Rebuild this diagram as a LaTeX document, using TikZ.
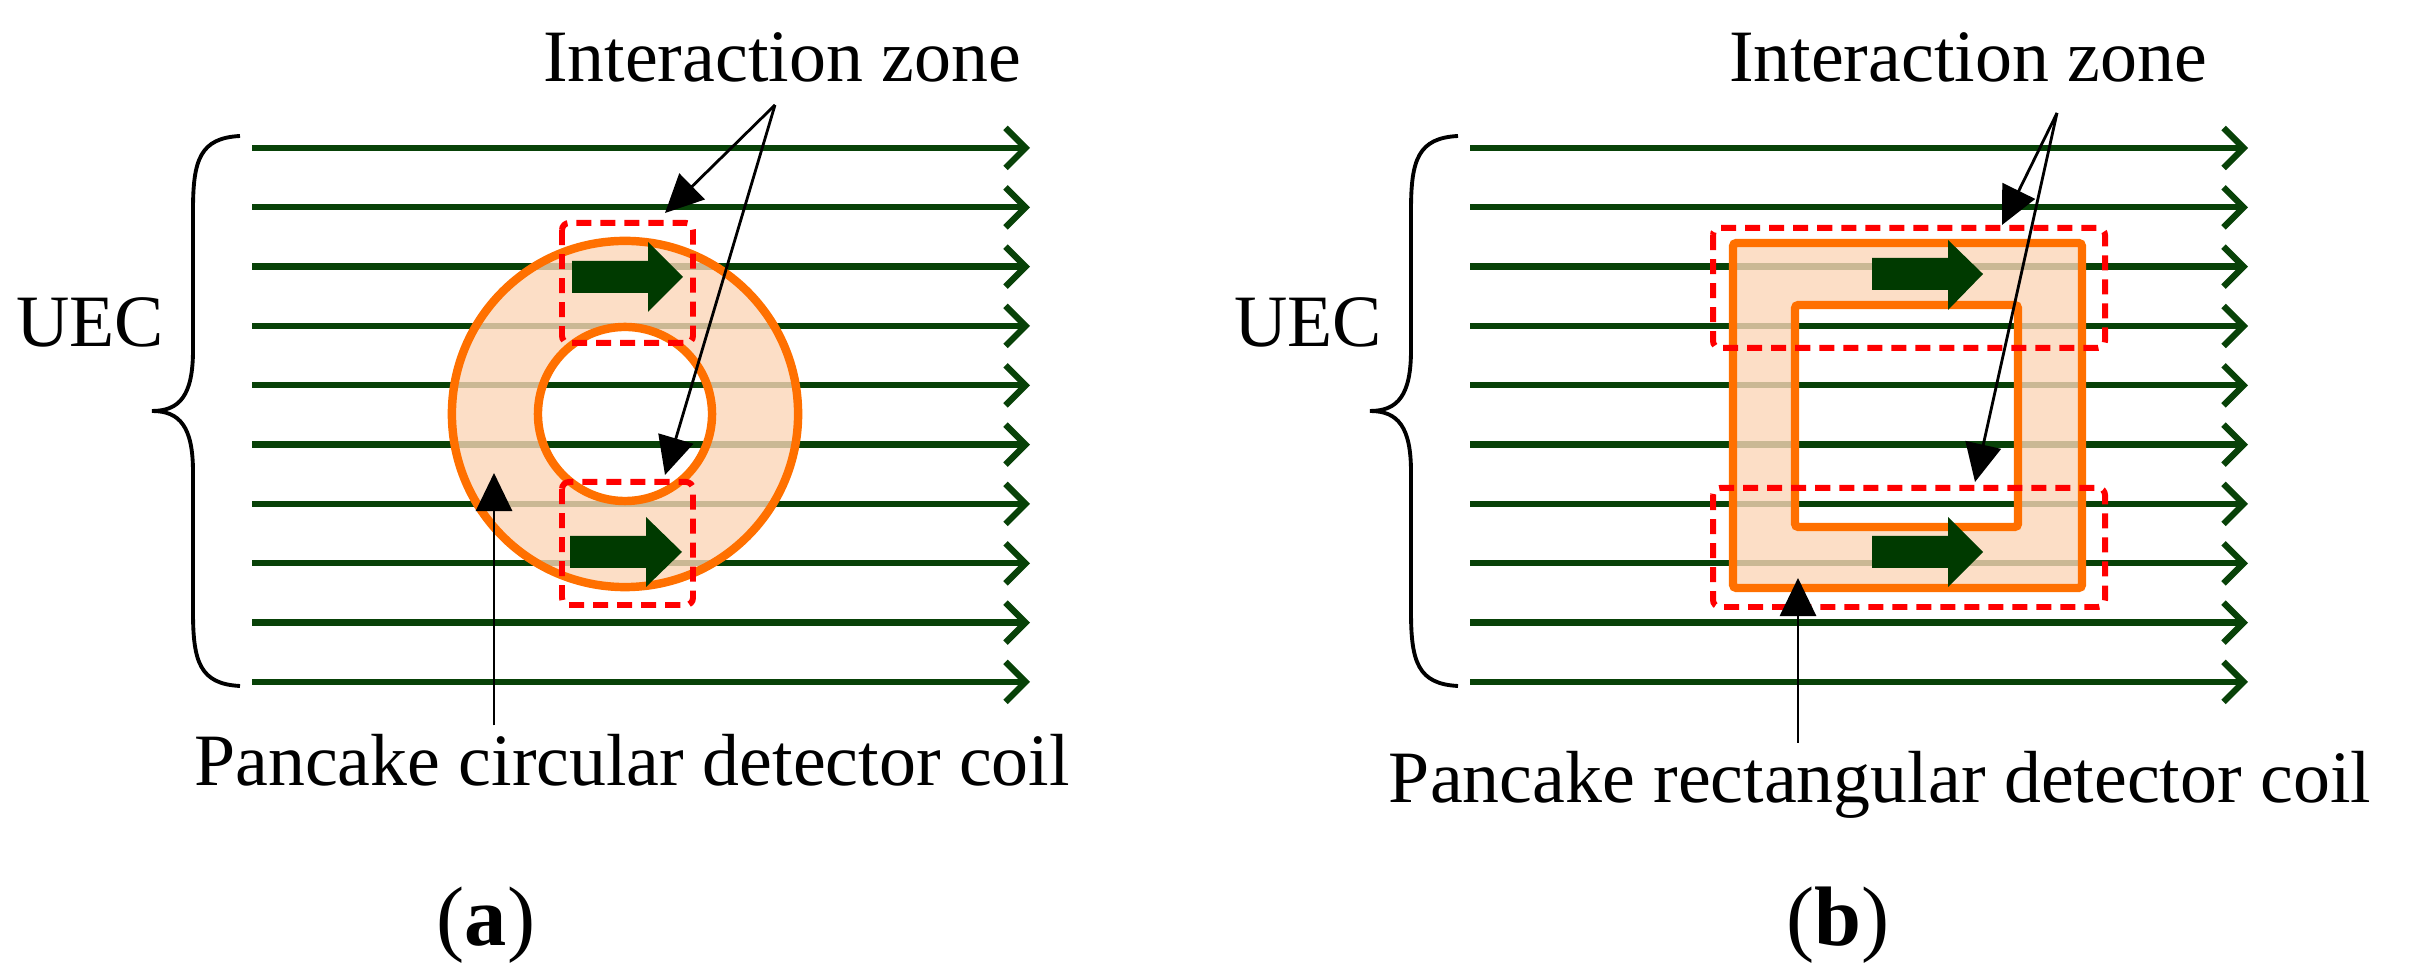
\documentclass[tikz,border=0pt]{standalone}
\usepackage{fontspec}
\setmainfont{Liberation Serif}
\usetikzlibrary{arrows.meta}
\definecolor{fgreen}{RGB}{8,66,8}
\definecolor{bgreen}{RGB}{0,58,0}
\definecolor{coil}{RGB}{255,112,0}
\definecolor{peach}{RGB}{251,214,184}
\definecolor{zred}{RGB}{255,0,0}
\tikzset{
  fl/.style={fgreen,line width=1.8pt,-{Straight Barb[length=0.2cm,width=0.4cm,line width=1.8pt]}},
  coilline/.style={coil,line width=2.4pt,rounded corners=1pt},
  zone/.style={zred,line width=1.7pt,dash pattern=on 0.15cm off 0.09cm,rounded corners=2pt},
  ptr/.style={black,line width=0.8pt,-{Triangle[length=0.38cm,width=0.36cm]}},
  lab/.style={font=\fontsize{21}{24}\selectfont,inner sep=0pt},
  sub/.style={font=\fontsize{24}{28}\selectfont,inner sep=0pt},
  brc/.style={black,line width=1.1pt},
  blk/.style={bgreen}
}
\begin{document}
\begin{tikzpicture}[x=0.01cm,y=-0.01cm]
\useasboundingbox (0,0) rectangle (2436,977);
% ---------------- panel (a)
\foreach \i in {0,...,9}{
  \coordinate (la\i) at (252,{148+59.33*\i});
  \coordinate (ra\i) at (1030,{148+59.33*\i});
  \draw[fl] (la\i) -- (ra\i);
}
\coordinate (cc) at (625,414);
\fill[peach,opacity=0.8,even odd rule] (cc) circle[radius=1.73cm] (cc) circle[radius=0.87cm];
\draw[coilline] (cc) circle[radius=1.73cm];
\draw[coilline] (cc) circle[radius=0.87cm];
\fill[blk] (572,261)--(648,261)--(648,242)--(683,277)--(648,312)--(648,293)--(572,293)--cycle;
\fill[blk] (570,536)--(646,536)--(646,517)--(682,552)--(646,587)--(646,568)--(570,568)--cycle;
\draw[zone] (562,223) rectangle (693,343);
\draw[zone] (562,482) rectangle (693,605);
\draw[brc] (240,136) .. controls (200,138) and (193,160) .. (193,210) -- (193,350) .. controls (193,395) and (180,411) .. (152,411) .. controls (180,411) and (193,427) .. (193,472) -- (193,612) .. controls (193,662) and (200,684) .. (240,686);
\node[lab] (uecA) at (90,322) {UEC};
\node[lab] (izA) at (782,57) {Interaction zone};
\coordinate (apA) at (775,105);
\coordinate (t1A) at (665,213);
\coordinate (t2A) at (665,475);
\draw[ptr] (apA) -- (t1A);
\draw[ptr] (apA) -- (t2A);
\node[lab] (pcA) at (632,760) {Pancake circular detector coil};
\coordinate (tpA) at (494,473);
\draw[ptr] (pcA.north -| tpA) ++(0,-8) coordinate (spA) -- (tpA);
\node[sub] (capA) at (486,925) {(\textbf{a})};
% ---------------- panel (b)
\foreach \i in {0,...,9}{
  \coordinate (lb\i) at (1470,{148+59.33*\i});
  \coordinate (rb\i) at (2248,{148+59.33*\i});
  \draw[fl] (lb\i) -- (rb\i);
}
\fill[peach,opacity=0.8,even odd rule] (1733,243) rectangle (2082,588) (1795,305) rectangle (2018,527);
\draw[coilline] (1733,243) rectangle (2082,588);
\draw[coilline] (1795,305) rectangle (2018,527);
\fill[blk] (1872,258)--(1948,258)--(1948,240)--(1983,274)--(1948,310)--(1948,290)--(1872,290)--cycle;
\fill[blk] (1872,536)--(1948,536)--(1948,517)--(1983,552)--(1948,587)--(1948,568)--(1872,568)--cycle;
\draw[zone] (1713,228) rectangle (2105,348);
\draw[zone] (1713,488) rectangle (2105,607);
\draw[brc] (1458,136) .. controls (1418,138) and (1411,160) .. (1411,210) -- (1411,350) .. controls (1411,395) and (1398,411) .. (1370,411) .. controls (1398,411) and (1411,427) .. (1411,472) -- (1411,612) .. controls (1411,662) and (1418,684) .. (1458,686);
\node[lab] (uecB) at (1308,322) {UEC};
\node[lab] (izB) at (1968,57) {Interaction zone};
\coordinate (apB) at (2057,113);
\coordinate (t1B) at (2002,225);
\coordinate (t2B) at (1975,482);
\draw[ptr] (apB) -- (t1B);
\draw[ptr] (apB) -- (t2B);
\node[lab] (pcB) at (1880,785) {Pancake rectangular detector coil};
\coordinate (tpB) at (1798,578);
\draw[ptr] (pcB.north -| tpB) ++(0,-8) coordinate (spB) -- (tpB);
\node[sub] (capB) at (1838,925) {(\textbf{b})};
\end{tikzpicture}
\end{document}
